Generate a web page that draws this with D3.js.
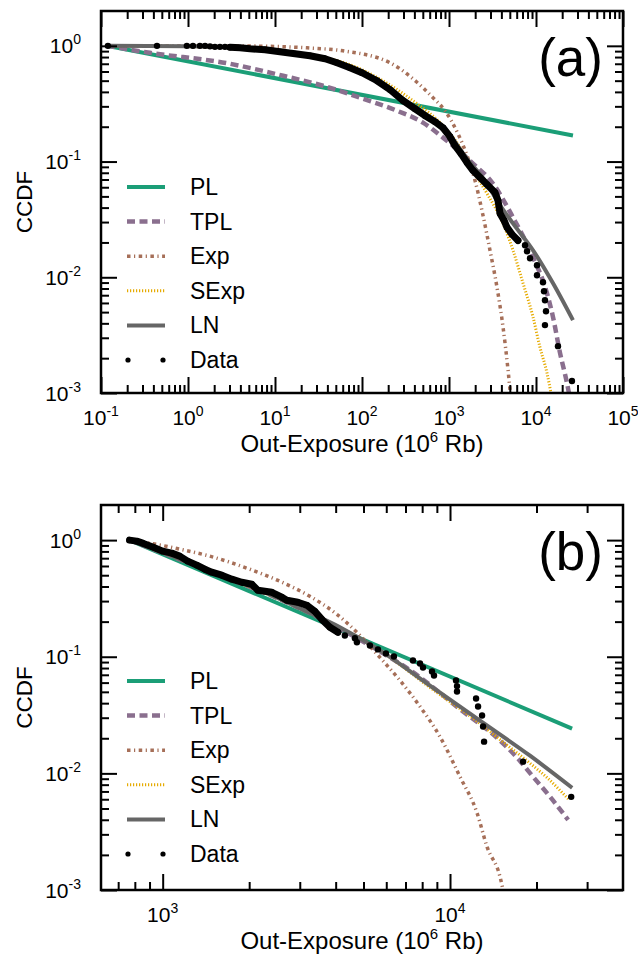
<!DOCTYPE html>
<html><head><meta charset="utf-8">
<script src="https://cdn.jsdelivr.net/npm/d3@7/dist/d3.min.js"></script>
<style>
body{margin:0;background:#fff}
svg text{font-family:"Liberation Sans",Arial,Helvetica,sans-serif;fill:#000}
</style>
</head><body>
<svg id="c" width="638" height="960"></svg>
<script>
// ---------- data ----------
const seriesNames = ["PL","TPL","Exp","SExp","LN","Data"];
const yTickExps = [-3,-2,-1,0];
const xTickExpsA = [-1,0,1,2,3,4,5];
const xTickExpsB = [3,4];
const panelLabels = ["(a)","(b)"];
const xTitleMain = "Out-Exposure (10", xTitleSup = "6", xTitleEnd = " Rb)";
const yTitle = "CCDF";

// Panel (a)
const plA = [[0.117,1],[26600,0.168]];
const tplA = [[0.117,1],[0.366,0.870],[3.04,0.700],[12.4,0.551],[35.6,0.452],[103,0.349],[252,0.275],[502,0.217],[853,0.161],[1888,0.0961],[3200,0.0646],[5440,0.0329],[9250,0.0149],[13370,0.00728],[15700,0.00452],[18900,0.00221],[22700,0.00122],[23900,0.001]];
const expA = [[0.117,1],[5.16,0.995],[23.3,0.961],[60.5,0.905],[210,0.714],[385,0.519],[655,0.356],[900,0.275],[1268,0.174],[1610,0.113],[1990,0.0686],[2460,0.0342],[2960,0.0171],[3560,0.0082],[4180,0.00371],[4770,0.00158],[5030,0.00106]];
const sexpA = [[0.117,1],[1.37,0.98],[5.16,0.942],[25.2,0.836],[72.8,0.686],[174,0.499],[429,0.316],[788,0.217],[1337,0.132],[1610,0.102],[2735,0.053],[4180,0.0292],[5440,0.0171],[7100,0.00887],[9250,0.00452],[11100,0.00249],[13370,0.00149],[14860,0.001]];
const lnA = [[0.117,1],[0.974,0.99],[5.16,0.942],[25.2,0.820],[72.8,0.659],[149,0.509],[296,0.349],[530,0.259],[853,0.200],[1610,0.106],[2735,0.0646],[3560,0.0461],[5440,0.0292],[9250,0.0171],[15700,0.00887],[26600,0.00426]];
const dataA = [[0.12,1.0],[0.44,1.0],[0.97,1.0],[1.14,1.0],[1.37,1.0],[1.57,1.0],[1.79,0.99],[2.04,0.98],[2.33,0.98],[2.66,0.98],[3.04,0.97],[3.96,0.961],[5.16,0.942],[7.68,0.924],[11.4,0.888],[17.0,0.853],[25.2,0.820],[37.6,0.773],[51.6,0.714],[72.8,0.646],[100,0.585],[149,0.499],[210,0.418],[296,0.336],[406,0.286],[530,0.249],[690,0.221],[853,0.196],[1026,0.164],[1172,0.137],[1374,0.117],[1610,0.098],[1888,0.0836],[2270,0.0728],[2735,0.0634],[3380,0.0541],[3660,0.0461],[3860,0.0356],[4290,0.031],[4640,0.027],[5300,0.0235],[6210,0.0208],[7480,0.0189],[7890,0.0168],[8540,0.0146],[10270,0.0127],[10270,0.0104],[12030,0.00906],[12360,0.00757],[12680,0.00633],[13030,0.00509],[12680,0.00386],[17900,0.00254],[25900,0.00127]];

// Panel (b)
const plB = [[767,1],[26600,0.0242]];
const tplB = [[767,1],[1458,0.541],[3002,0.260],[5702,0.111],[7372,0.0747],[11100,0.0339],[14580,0.0202],[17120,0.01362],[19460,0.00935],[22310,0.00629],[25770,0.00399]];
const expB = [[767,1],[901,0.942],[1146,0.837],[1458,0.729],[2009,0.563],[2557,0.444],[3252,0.330],[4039,0.231],[4742,0.162],[5702,0.0986],[6696,0.0626],[7863,0.0374],[9230,0.0206],[10835,0.00935],[12420,0.00458],[13460,0.00234],[14940,0.00129],[15300,0.001]];
const sexpB = [[767,1],[1458,0.541],[3002,0.260],[5702,0.1133],[8518,0.0545],[12720,0.0267],[14940,0.01945],[19460,0.01162],[21780,0.00917],[25770,0.00605]];
const lnB = [[767,1],[1058,0.743],[1458,0.541],[2178,0.372],[3002,0.260],[4138,0.179],[5702,0.1133],[8518,0.0566],[12720,0.0283],[18990,0.01417],[26610,0.00752]];
const dataB = [[767,1.0],[812,0.98],[852,0.942],[923,0.871],[1000,0.804],[1075,0.773],[1146,0.729],[1222,0.660],[1314,0.610],[1401,0.563],[1481,0.531],[1605,0.500],[1740,0.462],[1885,0.435],[2042,0.418],[2143,0.372],[2398,0.357],[2598,0.324],[2704,0.305],[2953,0.293],[3176,0.276],[3385,0.245],[3581,0.209],[3819,0.179],[4072,0.162],[4306,0.152],[4667,0.144],[4742,0.133],[5264,0.125],[5613,0.1156],[5984,0.1068],[6380,0.1006],[7431,0.0929],[7863,0.0876],[8054,0.0809],[8657,0.0747],[8797,0.0691],[10494,0.0626],[10578,0.0560],[10578,0.0503],[12321,0.0438],[12521,0.0374],[12929,0.0313],[13033,0.0252],[13139,0.0187],[17963,0.0126],[26410,0.00629]];

// ---------- layout & style ----------
const styles = {
  PL:   {color:"#1b9e77", width:4,   dash:null},
  TPL:  {color:"#8a6f8e", width:4.5, dash:"8,4.5"},
  Exp:  {color:"#a66f58", width:3.5, dash:"3.5,3.5,1.2,3.5"},
  SExp: {color:"#e6ab02", width:3,   dash:"1.2,1.8"},
  LN:   {color:"#666666", width:4,   dash:null}
};
const L = 101, R = 623;
const yDomain = [1e-3, 2];
const panels = [
  {label:panelLabels[0], top:11, bottom:393, xDomain:[0.1,1e5], xExps:xTickExpsA,
   series:{PL:plA,TPL:tplA,Exp:expA,SExp:sexpA,LN:lnA}, data:dataA, link:[3,6300]},
  {label:panelLabels[1], top:505, bottom:890, xDomain:[610,40000], xExps:xTickExpsB,
   series:{PL:plB,TPL:tplB,Exp:expB,SExp:sexpB,LN:lnB}, data:dataB, link:[760,4100]}
];

const svg = d3.select("#c");

function minorTicks(dom){
  const out=[]; const lo=dom[0], hi=dom[1];
  for(let e=Math.floor(Math.log10(lo)); e<=Math.ceil(Math.log10(hi)); e++)
    for(let m=2;m<=9;m++){ const v=m*Math.pow(10,e); if(v>lo*1.002 && v<hi*0.998) out.push(v); }
  return out;
}
function addAxis(g, axis, tr){
  const a = g.append("g").attr("transform",tr).call(axis);
  a.select(".domain").remove();
  a.selectAll("text").remove();
  a.selectAll("line").attr("stroke","#000").attr("stroke-width",2);
}
function supText(t, base, sup, supSize, raise){
  t.append("tspan").text(base);
  t.append("tspan").attr("dy",-raise).attr("font-size",supSize).text(sup);
}

panels.forEach((p,pi)=>{
  const g = svg.append("g");
  const x = d3.scaleLog().domain(p.xDomain).range([L,R]);
  const y = d3.scaleLog().domain(yDomain).range([p.bottom,p.top]);
  const xMaj = p.xExps.map(e=>Math.pow(10,e));
  const yMaj = yTickExps.map(e=>Math.pow(10,e));
  const xMin = minorTicks(p.xDomain), yMin = minorTicks(yDomain);

  const clipId = "clip"+pi;
  g.append("clipPath").attr("id",clipId).append("rect")
    .attr("x",L).attr("y",p.top).attr("width",R-L).attr("height",p.bottom-p.top);
  const plot = g.append("g").attr("clip-path",`url(#${clipId})`);

  const line = d3.line().x(d=>x(d[0])).y(d=>y(d[1])).curve(d3.curveMonotoneX);
  ["PL","TPL","Exp","SExp","LN"].forEach(k=>{
    const s = styles[k];
    plot.append("path").datum(p.series[k]).attr("d",line)
      .attr("fill","none").attr("stroke",s.color).attr("stroke-width",s.width)
      .attr("stroke-dasharray",s.dash).attr("stroke-linecap","butt");
  });
  // data: dense run joined, all points as dots
  const dense = p.data.filter(d=>d[0]>=p.link[0] && d[0]<=p.link[1]);
  plot.append("path").datum(dense)
    .attr("d", d3.line().x(d=>x(d[0])).y(d=>y(d[1])))
    .attr("fill","none").attr("stroke","#000").attr("stroke-width",7)
    .attr("stroke-linecap","round").attr("stroke-linejoin","round");
  plot.selectAll("circle.pt").data(p.data).join("circle").attr("class","pt")
    .attr("cx",d=>x(d[0])).attr("cy",d=>y(d[1])).attr("r",3.2).attr("fill","#000");

  // ticks on all four sides, pointing inward
  addAxis(g, d3.axisBottom(x).tickValues(xMaj).tickSize(-16).tickFormat(""), `translate(0,${p.bottom})`);
  addAxis(g, d3.axisBottom(x).tickValues(xMin).tickSize(-8).tickFormat(""), `translate(0,${p.bottom})`);
  addAxis(g, d3.axisTop(x).tickValues(xMaj).tickSize(-16).tickFormat(""), `translate(0,${p.top})`);
  addAxis(g, d3.axisTop(x).tickValues(xMin).tickSize(-8).tickFormat(""), `translate(0,${p.top})`);
  addAxis(g, d3.axisLeft(y).tickValues(yMaj).tickSize(-16).tickFormat(""), `translate(${L},0)`);
  addAxis(g, d3.axisLeft(y).tickValues(yMin).tickSize(-8).tickFormat(""), `translate(${L},0)`);
  addAxis(g, d3.axisRight(y).tickValues(yMaj).tickSize(-16).tickFormat(""), `translate(${R},0)`);
  addAxis(g, d3.axisRight(y).tickValues(yMin).tickSize(-8).tickFormat(""), `translate(${R},0)`);

  g.append("rect").attr("x",L).attr("y",p.top).attr("width",R-L).attr("height",p.bottom-p.top)
    .attr("fill","none").attr("stroke","#000").attr("stroke-width",2.5);

  // tick labels
  p.xExps.forEach(e=>{
    const t = g.append("text").attr("x",x(Math.pow(10,e))).attr("y",p.bottom+32)
      .attr("text-anchor","middle").attr("font-size",21);
    supText(t,"10",String(e),14,9);
  });
  yTickExps.forEach(e=>{
    const t = g.append("text").attr("x",81).attr("y",y(Math.pow(10,e))+7.5)
      .attr("text-anchor","end").attr("font-size",21);
    supText(t,"10",String(e),14,9);
  });

  // axis titles
  const xt = g.append("text").attr("x",(L+R)/2).attr("y",p.bottom+59)
    .attr("text-anchor","middle").attr("font-size",24);
  xt.append("tspan").text(xTitleMain);
  xt.append("tspan").attr("dy",-10).attr("font-size",15).text(xTitleSup);
  xt.append("tspan").attr("dy",10).text(xTitleEnd);
  g.append("text").attr("transform",`translate(32,${(p.top+p.bottom)/2}) rotate(-90)`)
    .attr("text-anchor","middle").attr("font-size",22.5).text(yTitle);

  // panel label
  g.append("text").attr("x",603).attr("y",p.top+65).attr("text-anchor","end")
    .attr("font-size",53).text(p.label);

  // legend
  const lg = g.append("g");
  seriesNames.forEach((nm,i)=>{
    const yy = p.top+176+i*34.6;
    if(nm==="Data"){
      [128,163].forEach(cx=>lg.append("circle").attr("cx",cx).attr("cy",yy).attr("r",2.6).attr("fill","#000"));
    } else {
      const s = styles[nm];
      lg.append("line").attr("x1",127).attr("x2",165).attr("y1",yy).attr("y2",yy)
        .attr("stroke",s.color).attr("stroke-width",s.width).attr("stroke-dasharray",s.dash);
    }
    lg.append("text").attr("x",190).attr("y",yy+8).attr("font-size",23).text(nm);
  });
});
</script>
</body></html>
